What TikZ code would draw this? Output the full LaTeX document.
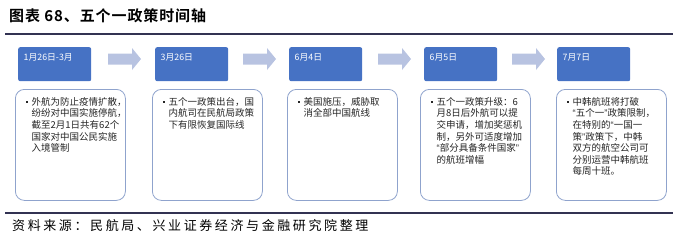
\documentclass[tikz,border=0pt]{standalone}
\usepackage{fontspec}
\setmainfont{Noto Sans CJK SC}
\newfontfamily\titlefont[LetterSpace=6]{Noto Sans CJK SC Bold}
\newfontfamily\srcfont[LetterSpace=20]{Noto Sans CJK SC}
\newfontfamily\quotefont{Liberation Sans}
\newcommand{\qopen}{{\quotefont “}}
\newcommand{\qclose}{{\quotefont ”}}
\usetikzlibrary{calc}
\definecolor{dateblue}{RGB}{70,114,196}
\definecolor{arrowblue}{RGB}{184,195,225}
\definecolor{boxline}{RGB}{143,163,205}
\definecolor{rulecol}{RGB}{50,50,82}
\tikzset{
  datebox/.style={draw=none,fill=dateblue,rounded corners=2pt,minimum width=73pt,minimum height=34pt,anchor=north west,inner sep=0pt},
  datetext/.style={text=white,font=\fontsize{8.8}{10}\selectfont,anchor=west,inner sep=0pt},
  infobox/.style={draw=boxline,line width=0.8pt,fill=white,rounded corners=9pt,minimum width=110pt,minimum height=111pt,anchor=north west,inner sep=0pt},
  infotext/.style={font=\fontsize{9.5}{11.6}\selectfont,align=left,anchor=north west,inner sep=0pt,text=black!85},
  bul/.style={fill=black!85,minimum size=2.2pt,inner sep=0pt,draw=none},
  flowarrow/.style={fill=arrowblue,draw=none},
  hrule/.style={draw=rulecol,line width=1.1pt}
}
\begin{document}
\begin{tikzpicture}[x=1pt,y=-1pt]
\useasboundingbox (0,0) rectangle (679,239);
% title and rules
\node[anchor=west,inner sep=0pt] (title) at (9,16) {\titlefont\fontsize{15}{17}\selectfont 图表 68、五个一政策时间轴};
\coordinate (r1a) at (5,34); \coordinate (r1b) at (673,34);
\coordinate (r2a) at (5,213); \coordinate (r2b) at (673,213);
\draw[hrule] (r1a) -- (r1b);
\draw[hrule] (r2a) -- (r2b);
\node[anchor=west,inner sep=0pt] (src) at (12,226) {\srcfont\fontsize{13}{15}\selectfont 资料来源：民航局、兴业证券经济与金融研究院整理};
% arrows
\foreach \ax in {108,243,378,512}{
  \fill[flowarrow] (\ax,53.5) -- (\ax+24,53.5) -- (\ax+24,48) -- (\ax+33,59) -- (\ax+24,70) -- (\ax+24,64.5) -- (\ax,64.5) -- cycle;
}
% date boxes
\node[datebox] (d1) at (18,47) {};
\node[datebox] (d2) at (155,47) {};
\node[datebox] (d3) at (289,47) {};
\node[datebox] (d4) at (424,47) {};
\node[datebox] (d5) at (557,47) {};
\node[datetext] (t1) at ($(d1.north west)+(5.5,10)$) {1月26日-3月};
\node[datetext] (t2) at ($(d2.north west)+(5.5,10)$) {3月26日};
\node[datetext] (t3) at ($(d3.north west)+(5.5,10)$) {6月4日};
\node[datetext] (t4) at ($(d4.north west)+(5.5,10)$) {6月5日};
\node[datetext] (t5) at ($(d5.north west)+(5.5,10)$) {7月7日};
% info boxes
\node[infobox] (w1) at (15,89) {};
\node[infobox] (w2) at (152,89) {};
\node[infobox] (w3) at (287,89) {};
\node[infobox] (w4) at (420,89) {};
\node[infobox] (w5) at (556,89) {};
\foreach \i in {1,...,5}{
  \node[bul] (b\i) at ($(w\i.north west)+(12,13)$) {};
}
\node[infotext] (x1) at ($(w1.north west)+(16.5,8)$) {外航为防止疫情扩散，\\纷纷对中国实施停航，\\截至2月1日共有62个\\国家对中国公民实施\\入境管制};
\node[infotext] (x2) at ($(w2.north west)+(16.5,8)$) {五个一政策出台，国\\内航司在民航局政策\\下有限恢复国际线};
\node[infotext] (x3) at ($(w3.north west)+(16.5,8)$) {美国施压，威胁取\\消全部中国航线};
\node[infotext] (x4) at ($(w4.north west)+(16.5,8)$) {五个一政策升级：6\\月8日后外航可以提\\交申请，增加奖惩机\\制，另外可适度增加\\\qopen 部分具备条件国家\qclose\\的航班增幅};
\node[infotext] (x5) at ($(w5.north west)+(16.5,8)$) {中韩航班将打破\\\qopen 五个一\qclose 政策限制，\\在特别的\qopen 一国一\\策\qclose 政策下，中韩\\双方的航空公司可\\分别运营中韩航班\\每周十班。};
\end{tikzpicture}
\end{document}
